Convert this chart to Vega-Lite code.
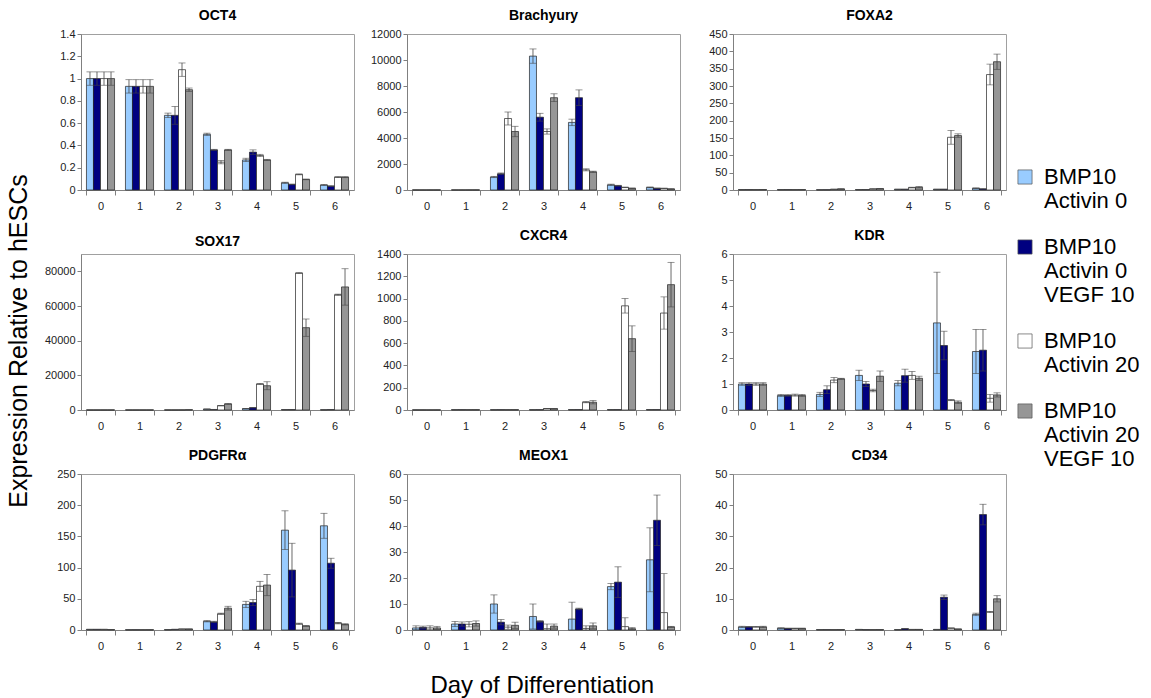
{
"$schema": "https://vega.github.io/schema/vega-lite/v6.json",
"background": "white",
"padding": {"left": 6, "top": 8, "right": 5, "bottom": 2},
"config": {
  "font": "Liberation Sans",
  "view": {"stroke": "#a0a0a0", "strokeWidth": 1},
  "axis": {"labelFont": "Liberation Sans", "labelFontSize": 11, "labelColor": "#222", "domainColor": "#808080", "tickColor": "#808080", "grid": false, "labelOverlap": false},
  "axisY": {"tickSize": 4, "labelPadding": 2, "minExtent": 38, "maxExtent": 38, "format": "d"},
  "axisX": {"ticks": true, "tickBand": "extent", "tickSize": 5, "labelPadding": 5, "labelAngle": 0, "minExtent": 23, "maxExtent": 23},
  "title": {"font": "Liberation Sans", "fontSize": 14, "fontWeight": "bold", "color": "#000", "offset": 5, "anchor": "middle"},
  "bar": {"stroke": "#222", "strokeWidth": 0.7}
},
"data": {"values": [
{"g":"OCT4","d":0,"s":"BMP10, Activin 0","v":1,"e":0.06},{"g":"OCT4","d":0,"s":"BMP10, Activin 0, VEGF 10","v":1,"e":0.06},{"g":"OCT4","d":0,"s":"BMP10, Activin 20","v":1,"e":0.06},{"g":"OCT4","d":0,"s":"BMP10, Activin 20, VEGF 10","v":1,"e":0.06},
{"g":"OCT4","d":1,"s":"BMP10, Activin 0","v":0.93,"e":0.06},{"g":"OCT4","d":1,"s":"BMP10, Activin 0, VEGF 10","v":0.93,"e":0.06},{"g":"OCT4","d":1,"s":"BMP10, Activin 20","v":0.93,"e":0.06},{"g":"OCT4","d":1,"s":"BMP10, Activin 20, VEGF 10","v":0.93,"e":0.06},
{"g":"OCT4","d":2,"s":"BMP10, Activin 0","v":0.67,"e":0.02},{"g":"OCT4","d":2,"s":"BMP10, Activin 0, VEGF 10","v":0.67,"e":0.08},{"g":"OCT4","d":2,"s":"BMP10, Activin 20","v":1.08,"e":0.06},{"g":"OCT4","d":2,"s":"BMP10, Activin 20, VEGF 10","v":0.9,"e":0.015},
{"g":"OCT4","d":3,"s":"BMP10, Activin 0","v":0.5,"e":0.01},{"g":"OCT4","d":3,"s":"BMP10, Activin 0, VEGF 10","v":0.36,"e":0.005},{"g":"OCT4","d":3,"s":"BMP10, Activin 20","v":0.25,"e":0.015},{"g":"OCT4","d":3,"s":"BMP10, Activin 20, VEGF 10","v":0.36,"e":0.005},
{"g":"OCT4","d":4,"s":"BMP10, Activin 0","v":0.27,"e":0.015},{"g":"OCT4","d":4,"s":"BMP10, Activin 0, VEGF 10","v":0.34,"e":0.02},{"g":"OCT4","d":4,"s":"BMP10, Activin 20","v":0.31,"e":0.01},{"g":"OCT4","d":4,"s":"BMP10, Activin 20, VEGF 10","v":0.27,"e":0.005},
{"g":"OCT4","d":5,"s":"BMP10, Activin 0","v":0.065,"e":0.005},{"g":"OCT4","d":5,"s":"BMP10, Activin 0, VEGF 10","v":0.05,"e":0.003},{"g":"OCT4","d":5,"s":"BMP10, Activin 20","v":0.14,"e":0.004},{"g":"OCT4","d":5,"s":"BMP10, Activin 20, VEGF 10","v":0.095,"e":0.003},
{"g":"OCT4","d":6,"s":"BMP10, Activin 0","v":0.045,"e":0.005},{"g":"OCT4","d":6,"s":"BMP10, Activin 0, VEGF 10","v":0.035,"e":0.003},{"g":"OCT4","d":6,"s":"BMP10, Activin 20","v":0.115,"e":0.004},{"g":"OCT4","d":6,"s":"BMP10, Activin 20, VEGF 10","v":0.115,"e":0.004},
{"g":"Brachyury","d":0,"s":"BMP10, Activin 0","v":2,"e":1},{"g":"Brachyury","d":0,"s":"BMP10, Activin 0, VEGF 10","v":2,"e":1},{"g":"Brachyury","d":0,"s":"BMP10, Activin 20","v":3,"e":1},{"g":"Brachyury","d":0,"s":"BMP10, Activin 20, VEGF 10","v":3,"e":1},
{"g":"Brachyury","d":1,"s":"BMP10, Activin 0","v":2,"e":1},{"g":"Brachyury","d":1,"s":"BMP10, Activin 0, VEGF 10","v":2,"e":1},{"g":"Brachyury","d":1,"s":"BMP10, Activin 20","v":3,"e":1},{"g":"Brachyury","d":1,"s":"BMP10, Activin 20, VEGF 10","v":3,"e":1},
{"g":"Brachyury","d":2,"s":"BMP10, Activin 0","v":1000,"e":50},{"g":"Brachyury","d":2,"s":"BMP10, Activin 0, VEGF 10","v":1250,"e":60},{"g":"Brachyury","d":2,"s":"BMP10, Activin 20","v":5500,"e":500},{"g":"Brachyury","d":2,"s":"BMP10, Activin 20, VEGF 10","v":4500,"e":400},
{"g":"Brachyury","d":3,"s":"BMP10, Activin 0","v":10300,"e":550},{"g":"Brachyury","d":3,"s":"BMP10, Activin 0, VEGF 10","v":5600,"e":300},{"g":"Brachyury","d":3,"s":"BMP10, Activin 20","v":4500,"e":200},{"g":"Brachyury","d":3,"s":"BMP10, Activin 20, VEGF 10","v":7100,"e":300},
{"g":"Brachyury","d":4,"s":"BMP10, Activin 0","v":5200,"e":250},{"g":"Brachyury","d":4,"s":"BMP10, Activin 0, VEGF 10","v":7100,"e":600},{"g":"Brachyury","d":4,"s":"BMP10, Activin 20","v":1550,"e":80},{"g":"Brachyury","d":4,"s":"BMP10, Activin 20, VEGF 10","v":1400,"e":50},
{"g":"Brachyury","d":5,"s":"BMP10, Activin 0","v":400,"e":50},{"g":"Brachyury","d":5,"s":"BMP10, Activin 0, VEGF 10","v":330,"e":30},{"g":"Brachyury","d":5,"s":"BMP10, Activin 20","v":200,"e":20},{"g":"Brachyury","d":5,"s":"BMP10, Activin 20, VEGF 10","v":130,"e":20},
{"g":"Brachyury","d":6,"s":"BMP10, Activin 0","v":200,"e":30},{"g":"Brachyury","d":6,"s":"BMP10, Activin 0, VEGF 10","v":130,"e":20},{"g":"Brachyury","d":6,"s":"BMP10, Activin 20","v":120,"e":20},{"g":"Brachyury","d":6,"s":"BMP10, Activin 20, VEGF 10","v":80,"e":10},
{"g":"FOXA2","d":0,"s":"BMP10, Activin 0","v":1,"e":0.2},{"g":"FOXA2","d":0,"s":"BMP10, Activin 0, VEGF 10","v":1,"e":0.2},{"g":"FOXA2","d":0,"s":"BMP10, Activin 20","v":1,"e":0.2},{"g":"FOXA2","d":0,"s":"BMP10, Activin 20, VEGF 10","v":1,"e":0.2},
{"g":"FOXA2","d":1,"s":"BMP10, Activin 0","v":1,"e":0.2},{"g":"FOXA2","d":1,"s":"BMP10, Activin 0, VEGF 10","v":1,"e":0.2},{"g":"FOXA2","d":1,"s":"BMP10, Activin 20","v":1,"e":0.2},{"g":"FOXA2","d":1,"s":"BMP10, Activin 20, VEGF 10","v":1,"e":0.2},
{"g":"FOXA2","d":2,"s":"BMP10, Activin 0","v":0.5,"e":0.1},{"g":"FOXA2","d":2,"s":"BMP10, Activin 0, VEGF 10","v":0.5,"e":0.1},{"g":"FOXA2","d":2,"s":"BMP10, Activin 20","v":2,"e":0.5},{"g":"FOXA2","d":2,"s":"BMP10, Activin 20, VEGF 10","v":3,"e":0.5},
{"g":"FOXA2","d":3,"s":"BMP10, Activin 0","v":1,"e":0.2},{"g":"FOXA2","d":3,"s":"BMP10, Activin 0, VEGF 10","v":1,"e":0.2},{"g":"FOXA2","d":3,"s":"BMP10, Activin 20","v":3,"e":0.5},{"g":"FOXA2","d":3,"s":"BMP10, Activin 20, VEGF 10","v":4,"e":0.5},
{"g":"FOXA2","d":4,"s":"BMP10, Activin 0","v":2,"e":0.5},{"g":"FOXA2","d":4,"s":"BMP10, Activin 0, VEGF 10","v":2,"e":0.5},{"g":"FOXA2","d":4,"s":"BMP10, Activin 20","v":7,"e":1},{"g":"FOXA2","d":4,"s":"BMP10, Activin 20, VEGF 10","v":8,"e":2},
{"g":"FOXA2","d":5,"s":"BMP10, Activin 0","v":2,"e":0.5},{"g":"FOXA2","d":5,"s":"BMP10, Activin 0, VEGF 10","v":2,"e":0.5},{"g":"FOXA2","d":5,"s":"BMP10, Activin 20","v":152,"e":20},{"g":"FOXA2","d":5,"s":"BMP10, Activin 20, VEGF 10","v":157,"e":5},
{"g":"FOXA2","d":6,"s":"BMP10, Activin 0","v":5,"e":1},{"g":"FOXA2","d":6,"s":"BMP10, Activin 0, VEGF 10","v":3,"e":0.5},{"g":"FOXA2","d":6,"s":"BMP10, Activin 20","v":333,"e":30},{"g":"FOXA2","d":6,"s":"BMP10, Activin 20, VEGF 10","v":370,"e":22},
{"g":"SOX17","d":0,"s":"BMP10, Activin 0","v":1,"e":0},{"g":"SOX17","d":0,"s":"BMP10, Activin 0, VEGF 10","v":1,"e":0},{"g":"SOX17","d":0,"s":"BMP10, Activin 20","v":1,"e":0},{"g":"SOX17","d":0,"s":"BMP10, Activin 20, VEGF 10","v":1,"e":0},
{"g":"SOX17","d":1,"s":"BMP10, Activin 0","v":1,"e":0},{"g":"SOX17","d":1,"s":"BMP10, Activin 0, VEGF 10","v":1,"e":0},{"g":"SOX17","d":1,"s":"BMP10, Activin 20","v":1,"e":0},{"g":"SOX17","d":1,"s":"BMP10, Activin 20, VEGF 10","v":1,"e":0},
{"g":"SOX17","d":2,"s":"BMP10, Activin 0","v":5,"e":0},{"g":"SOX17","d":2,"s":"BMP10, Activin 0, VEGF 10","v":5,"e":0},{"g":"SOX17","d":2,"s":"BMP10, Activin 20","v":20,"e":5},{"g":"SOX17","d":2,"s":"BMP10, Activin 20, VEGF 10","v":100,"e":20},
{"g":"SOX17","d":3,"s":"BMP10, Activin 0","v":500,"e":100},{"g":"SOX17","d":3,"s":"BMP10, Activin 0, VEGF 10","v":300,"e":50},{"g":"SOX17","d":3,"s":"BMP10, Activin 20","v":2500,"e":100},{"g":"SOX17","d":3,"s":"BMP10, Activin 20, VEGF 10","v":3500,"e":200},
{"g":"SOX17","d":4,"s":"BMP10, Activin 0","v":800,"e":100},{"g":"SOX17","d":4,"s":"BMP10, Activin 0, VEGF 10","v":1300,"e":100},{"g":"SOX17","d":4,"s":"BMP10, Activin 20","v":15000,"e":300},{"g":"SOX17","d":4,"s":"BMP10, Activin 20, VEGF 10","v":14000,"e":2300},
{"g":"SOX17","d":5,"s":"BMP10, Activin 0","v":200,"e":50},{"g":"SOX17","d":5,"s":"BMP10, Activin 0, VEGF 10","v":200,"e":50},{"g":"SOX17","d":5,"s":"BMP10, Activin 20","v":79000,"e":200},{"g":"SOX17","d":5,"s":"BMP10, Activin 20, VEGF 10","v":47500,"e":5000},
{"g":"SOX17","d":6,"s":"BMP10, Activin 0","v":100,"e":30},{"g":"SOX17","d":6,"s":"BMP10, Activin 0, VEGF 10","v":200,"e":50},{"g":"SOX17","d":6,"s":"BMP10, Activin 20","v":66500,"e":300},{"g":"SOX17","d":6,"s":"BMP10, Activin 20, VEGF 10","v":71000,"e":10500},
{"g":"CXCR4","d":0,"s":"BMP10, Activin 0","v":0.5,"e":0.1},{"g":"CXCR4","d":0,"s":"BMP10, Activin 0, VEGF 10","v":0.5,"e":0.1},{"g":"CXCR4","d":0,"s":"BMP10, Activin 20","v":0.5,"e":0.1},{"g":"CXCR4","d":0,"s":"BMP10, Activin 20, VEGF 10","v":0.5,"e":0.1},
{"g":"CXCR4","d":1,"s":"BMP10, Activin 0","v":2,"e":0.3},{"g":"CXCR4","d":1,"s":"BMP10, Activin 0, VEGF 10","v":2,"e":0.3},{"g":"CXCR4","d":1,"s":"BMP10, Activin 20","v":2,"e":0.3},{"g":"CXCR4","d":1,"s":"BMP10, Activin 20, VEGF 10","v":2,"e":0.3},
{"g":"CXCR4","d":2,"s":"BMP10, Activin 0","v":2,"e":0.3},{"g":"CXCR4","d":2,"s":"BMP10, Activin 0, VEGF 10","v":2,"e":0.3},{"g":"CXCR4","d":2,"s":"BMP10, Activin 20","v":2,"e":0.3},{"g":"CXCR4","d":2,"s":"BMP10, Activin 20, VEGF 10","v":2,"e":0.3},
{"g":"CXCR4","d":3,"s":"BMP10, Activin 0","v":2,"e":0.3},{"g":"CXCR4","d":3,"s":"BMP10, Activin 0, VEGF 10","v":2,"e":0.3},{"g":"CXCR4","d":3,"s":"BMP10, Activin 20","v":13,"e":1},{"g":"CXCR4","d":3,"s":"BMP10, Activin 20, VEGF 10","v":12,"e":1},
{"g":"CXCR4","d":4,"s":"BMP10, Activin 0","v":3,"e":0.5},{"g":"CXCR4","d":4,"s":"BMP10, Activin 0, VEGF 10","v":3,"e":0.5},{"g":"CXCR4","d":4,"s":"BMP10, Activin 20","v":70,"e":5},{"g":"CXCR4","d":4,"s":"BMP10, Activin 20, VEGF 10","v":70,"e":15},
{"g":"CXCR4","d":5,"s":"BMP10, Activin 0","v":3,"e":0.5},{"g":"CXCR4","d":5,"s":"BMP10, Activin 0, VEGF 10","v":3,"e":0.5},{"g":"CXCR4","d":5,"s":"BMP10, Activin 20","v":935,"e":65},{"g":"CXCR4","d":5,"s":"BMP10, Activin 20, VEGF 10","v":640,"e":115},
{"g":"CXCR4","d":6,"s":"BMP10, Activin 0","v":3,"e":0.5},{"g":"CXCR4","d":6,"s":"BMP10, Activin 0, VEGF 10","v":3,"e":0.5},{"g":"CXCR4","d":6,"s":"BMP10, Activin 20","v":870,"e":145},{"g":"CXCR4","d":6,"s":"BMP10, Activin 20, VEGF 10","v":1125,"e":200},
{"g":"KDR","d":0,"s":"BMP10, Activin 0","v":1,"e":0.05},{"g":"KDR","d":0,"s":"BMP10, Activin 0, VEGF 10","v":1,"e":0.05},{"g":"KDR","d":0,"s":"BMP10, Activin 20","v":1,"e":0.05},{"g":"KDR","d":0,"s":"BMP10, Activin 20, VEGF 10","v":1,"e":0.05},
{"g":"KDR","d":1,"s":"BMP10, Activin 0","v":0.56,"e":0.04},{"g":"KDR","d":1,"s":"BMP10, Activin 0, VEGF 10","v":0.56,"e":0.03},{"g":"KDR","d":1,"s":"BMP10, Activin 20","v":0.57,"e":0.04},{"g":"KDR","d":1,"s":"BMP10, Activin 20, VEGF 10","v":0.56,"e":0.04},
{"g":"KDR","d":2,"s":"BMP10, Activin 0","v":0.6,"e":0.08},{"g":"KDR","d":2,"s":"BMP10, Activin 0, VEGF 10","v":0.78,"e":0.15},{"g":"KDR","d":2,"s":"BMP10, Activin 20","v":1.15,"e":0.1},{"g":"KDR","d":2,"s":"BMP10, Activin 20, VEGF 10","v":1.2,"e":0.02},
{"g":"KDR","d":3,"s":"BMP10, Activin 0","v":1.33,"e":0.2},{"g":"KDR","d":3,"s":"BMP10, Activin 0, VEGF 10","v":1,"e":0.1},{"g":"KDR","d":3,"s":"BMP10, Activin 20","v":0.75,"e":0.05},{"g":"KDR","d":3,"s":"BMP10, Activin 20, VEGF 10","v":1.3,"e":0.2},
{"g":"KDR","d":4,"s":"BMP10, Activin 0","v":1.03,"e":0.1},{"g":"KDR","d":4,"s":"BMP10, Activin 0, VEGF 10","v":1.32,"e":0.25},{"g":"KDR","d":4,"s":"BMP10, Activin 20","v":1.33,"e":0.15},{"g":"KDR","d":4,"s":"BMP10, Activin 20, VEGF 10","v":1.22,"e":0.08},
{"g":"KDR","d":5,"s":"BMP10, Activin 0","v":3.35,"e":1.95},{"g":"KDR","d":5,"s":"BMP10, Activin 0, VEGF 10","v":2.48,"e":0.55},{"g":"KDR","d":5,"s":"BMP10, Activin 20","v":0.38,"e":0.02},{"g":"KDR","d":5,"s":"BMP10, Activin 20, VEGF 10","v":0.3,"e":0.05},
{"g":"KDR","d":6,"s":"BMP10, Activin 0","v":2.25,"e":0.85},{"g":"KDR","d":6,"s":"BMP10, Activin 0, VEGF 10","v":2.3,"e":0.8},{"g":"KDR","d":6,"s":"BMP10, Activin 20","v":0.45,"e":0.15},{"g":"KDR","d":6,"s":"BMP10, Activin 20, VEGF 10","v":0.58,"e":0.08},
{"g":"PDGFRα","d":0,"s":"BMP10, Activin 0","v":1,"e":0.2},{"g":"PDGFRα","d":0,"s":"BMP10, Activin 0, VEGF 10","v":1,"e":0.2},{"g":"PDGFRα","d":0,"s":"BMP10, Activin 20","v":1,"e":0.2},{"g":"PDGFRα","d":0,"s":"BMP10, Activin 20, VEGF 10","v":0.6,"e":0.1},
{"g":"PDGFRα","d":1,"s":"BMP10, Activin 0","v":0.3,"e":0.1},{"g":"PDGFRα","d":1,"s":"BMP10, Activin 0, VEGF 10","v":0.3,"e":0.1},{"g":"PDGFRα","d":1,"s":"BMP10, Activin 20","v":0.3,"e":0.1},{"g":"PDGFRα","d":1,"s":"BMP10, Activin 20, VEGF 10","v":0.3,"e":0.1},
{"g":"PDGFRα","d":2,"s":"BMP10, Activin 0","v":0.5,"e":0.1},{"g":"PDGFRα","d":2,"s":"BMP10, Activin 0, VEGF 10","v":1,"e":0.2},{"g":"PDGFRα","d":2,"s":"BMP10, Activin 20","v":1.5,"e":0.2},{"g":"PDGFRα","d":2,"s":"BMP10, Activin 20, VEGF 10","v":1.5,"e":0.2},
{"g":"PDGFRα","d":3,"s":"BMP10, Activin 0","v":14,"e":1},{"g":"PDGFRα","d":3,"s":"BMP10, Activin 0, VEGF 10","v":13,"e":1},{"g":"PDGFRα","d":3,"s":"BMP10, Activin 20","v":26,"e":1},{"g":"PDGFRα","d":3,"s":"BMP10, Activin 20, VEGF 10","v":35,"e":3},
{"g":"PDGFRα","d":4,"s":"BMP10, Activin 0","v":41,"e":5},{"g":"PDGFRα","d":4,"s":"BMP10, Activin 0, VEGF 10","v":44,"e":5},{"g":"PDGFRα","d":4,"s":"BMP10, Activin 20","v":70,"e":8},{"g":"PDGFRα","d":4,"s":"BMP10, Activin 20, VEGF 10","v":72,"e":17},
{"g":"PDGFRα","d":5,"s":"BMP10, Activin 0","v":160,"e":31},{"g":"PDGFRα","d":5,"s":"BMP10, Activin 0, VEGF 10","v":96,"e":43},{"g":"PDGFRα","d":5,"s":"BMP10, Activin 20","v":10,"e":1},{"g":"PDGFRα","d":5,"s":"BMP10, Activin 20, VEGF 10","v":6.5,"e":0.5},
{"g":"PDGFRα","d":6,"s":"BMP10, Activin 0","v":167,"e":20},{"g":"PDGFRα","d":6,"s":"BMP10, Activin 0, VEGF 10","v":107,"e":8},{"g":"PDGFRα","d":6,"s":"BMP10, Activin 20","v":11,"e":1},{"g":"PDGFRα","d":6,"s":"BMP10, Activin 20, VEGF 10","v":9,"e":1},
{"g":"MEOX1","d":0,"s":"BMP10, Activin 0","v":0.8,"e":0.8},{"g":"MEOX1","d":0,"s":"BMP10, Activin 0, VEGF 10","v":1,"e":0.5},{"g":"MEOX1","d":0,"s":"BMP10, Activin 20","v":0.8,"e":0.8},{"g":"MEOX1","d":0,"s":"BMP10, Activin 20, VEGF 10","v":0.8,"e":0.6},
{"g":"MEOX1","d":1,"s":"BMP10, Activin 0","v":2.3,"e":1},{"g":"MEOX1","d":1,"s":"BMP10, Activin 0, VEGF 10","v":2.3,"e":0.8},{"g":"MEOX1","d":1,"s":"BMP10, Activin 20","v":2.2,"e":1},{"g":"MEOX1","d":1,"s":"BMP10, Activin 20, VEGF 10","v":2.5,"e":1},
{"g":"MEOX1","d":2,"s":"BMP10, Activin 0","v":10,"e":3.5},{"g":"MEOX1","d":2,"s":"BMP10, Activin 0, VEGF 10","v":3,"e":1},{"g":"MEOX1","d":2,"s":"BMP10, Activin 20","v":1.1,"e":0.8},{"g":"MEOX1","d":2,"s":"BMP10, Activin 20, VEGF 10","v":1.8,"e":1.2},
{"g":"MEOX1","d":3,"s":"BMP10, Activin 0","v":5.2,"e":4.8},{"g":"MEOX1","d":3,"s":"BMP10, Activin 0, VEGF 10","v":3.3,"e":0.3},{"g":"MEOX1","d":3,"s":"BMP10, Activin 20","v":0.5,"e":1.8},{"g":"MEOX1","d":3,"s":"BMP10, Activin 20, VEGF 10","v":1.5,"e":0.8},
{"g":"MEOX1","d":4,"s":"BMP10, Activin 0","v":4.2,"e":6.5},{"g":"MEOX1","d":4,"s":"BMP10, Activin 0, VEGF 10","v":8.1,"e":0.3},{"g":"MEOX1","d":4,"s":"BMP10, Activin 20","v":0.6,"e":1},{"g":"MEOX1","d":4,"s":"BMP10, Activin 20, VEGF 10","v":1.6,"e":1.1},
{"g":"MEOX1","d":5,"s":"BMP10, Activin 0","v":16.7,"e":1.2},{"g":"MEOX1","d":5,"s":"BMP10, Activin 0, VEGF 10","v":18.4,"e":5.9},{"g":"MEOX1","d":5,"s":"BMP10, Activin 20","v":1.3,"e":3.4},{"g":"MEOX1","d":5,"s":"BMP10, Activin 20, VEGF 10","v":0.5,"e":0.4},
{"g":"MEOX1","d":6,"s":"BMP10, Activin 0","v":27,"e":12.3},{"g":"MEOX1","d":6,"s":"BMP10, Activin 0, VEGF 10","v":42.2,"e":9.7},{"g":"MEOX1","d":6,"s":"BMP10, Activin 20","v":6.7,"e":15},{"g":"MEOX1","d":6,"s":"BMP10, Activin 20, VEGF 10","v":1.2,"e":0.2},
{"g":"CD34","d":0,"s":"BMP10, Activin 0","v":1,"e":0.2},{"g":"CD34","d":0,"s":"BMP10, Activin 0, VEGF 10","v":1,"e":0.1},{"g":"CD34","d":0,"s":"BMP10, Activin 20","v":1,"e":0.1},{"g":"CD34","d":0,"s":"BMP10, Activin 20, VEGF 10","v":1,"e":0.2},
{"g":"CD34","d":1,"s":"BMP10, Activin 0","v":0.6,"e":0.1},{"g":"CD34","d":1,"s":"BMP10, Activin 0, VEGF 10","v":0.5,"e":0.1},{"g":"CD34","d":1,"s":"BMP10, Activin 20","v":0.5,"e":0.1},{"g":"CD34","d":1,"s":"BMP10, Activin 20, VEGF 10","v":0.5,"e":0.1},
{"g":"CD34","d":2,"s":"BMP10, Activin 0","v":0.1,"e":0},{"g":"CD34","d":2,"s":"BMP10, Activin 0, VEGF 10","v":0.1,"e":0},{"g":"CD34","d":2,"s":"BMP10, Activin 20","v":0.1,"e":0},{"g":"CD34","d":2,"s":"BMP10, Activin 20, VEGF 10","v":0.1,"e":0},
{"g":"CD34","d":3,"s":"BMP10, Activin 0","v":0.2,"e":0},{"g":"CD34","d":3,"s":"BMP10, Activin 0, VEGF 10","v":0.1,"e":0},{"g":"CD34","d":3,"s":"BMP10, Activin 20","v":0.1,"e":0},{"g":"CD34","d":3,"s":"BMP10, Activin 20, VEGF 10","v":0.1,"e":0},
{"g":"CD34","d":4,"s":"BMP10, Activin 0","v":0.1,"e":0},{"g":"CD34","d":4,"s":"BMP10, Activin 0, VEGF 10","v":0.4,"e":0.05},{"g":"CD34","d":4,"s":"BMP10, Activin 20","v":0.2,"e":0},{"g":"CD34","d":4,"s":"BMP10, Activin 20, VEGF 10","v":0.2,"e":0},
{"g":"CD34","d":5,"s":"BMP10, Activin 0","v":0.2,"e":0},{"g":"CD34","d":5,"s":"BMP10, Activin 0, VEGF 10","v":10.5,"e":0.7},{"g":"CD34","d":5,"s":"BMP10, Activin 20","v":0.6,"e":0.05},{"g":"CD34","d":5,"s":"BMP10, Activin 20, VEGF 10","v":0.3,"e":0},
{"g":"CD34","d":6,"s":"BMP10, Activin 0","v":5,"e":0.4},{"g":"CD34","d":6,"s":"BMP10, Activin 0, VEGF 10","v":37,"e":3.3},{"g":"CD34","d":6,"s":"BMP10, Activin 20","v":5.8,"e":0.2},{"g":"CD34","d":6,"s":"BMP10, Activin 20, VEGF 10","v":10,"e":1}
]},
"title": {"text": "Day of Differentiation", "orient": "bottom", "anchor": "middle", "fontSize": 24, "fontWeight": "normal", "offset": 20, "dx": -31},
"hconcat": [{
  "title": {"text": "Expression Relative to hESCs", "orient": "left", "anchor": "middle", "fontSize": 25, "fontWeight": "normal", "offset": 11, "dx": -10},
  "columns": 3,
  "spacing": {"row": 14, "column": 13},
  "concat": [
    {"title": "OCT4", "width": 273, "height": 156, "transform": [{"filter": "datum.g === 'OCT4'"}],
     "encoding": {"x": {"field": "d", "type": "ordinal", "title": null, "scale": {"paddingInner": 0.28, "paddingOuter": 0.14}}, "xOffset": {"field": "s", "type": "nominal", "sort": null},
       "y": {"field": "v", "type": "quantitative", "title": null, "scale": {"domain": [0, 1.4], "nice": false}, "axis": {"values": [0, 0.2, 0.4, 0.6, 0.8, 1, 1.2, 1.4], "format": ".1~f"}}},
     "layer": [
      {"mark": "bar", "encoding": {"color": {"field": "s", "type": "nominal", "sort": null, "scale": {"range": ["#99CCFF", "#000080", "#FFFFFF", "#969696"]}, "legend": {"orient": "none", "legendX": 933, "legendY": 132, "title": null, "symbolType": "square", "symbolSize": 200, "symbolStrokeColor": "#555", "symbolStrokeWidth": 0.7, "labelFontSize": 22, "labelFont": "Liberation Sans", "labelColor": "#000", "labelExpr": "split(datum.value, ', ')", "labelBaseline": "middle", "labelOffset": 8, "rowPadding": 24, "labelLimit": 300}}}},
      {"mark": {"type": "errorbar", "ticks": true, "color": "#444", "thickness": 0.8, "clip": true}, "encoding": {"yError": {"field": "e"}}}
     ]},
    {"title": "Brachyury", "width": 273, "height": 156, "transform": [{"filter": "datum.g === 'Brachyury'"}],
     "encoding": {"x": {"field": "d", "type": "ordinal", "title": null, "scale": {"paddingInner": 0.28, "paddingOuter": 0.14}}, "xOffset": {"field": "s", "type": "nominal", "sort": null},
       "y": {"field": "v", "type": "quantitative", "title": null, "scale": {"domain": [0, 12000], "nice": false}, "axis": {"values": [0, 2000, 4000, 6000, 8000, 10000, 12000]}}},
     "layer": [
      {"mark": "bar", "encoding": {"color": {"field": "s", "type": "nominal", "sort": null, "scale": {"range": ["#99CCFF", "#000080", "#FFFFFF", "#969696"]}, "legend": {"orient": "none", "legendX": 933, "legendY": 132, "title": null, "symbolType": "square", "symbolSize": 200, "symbolStrokeColor": "#555", "symbolStrokeWidth": 0.7, "labelFontSize": 22, "labelFont": "Liberation Sans", "labelColor": "#000", "labelExpr": "split(datum.value, ', ')", "labelBaseline": "middle", "labelOffset": 8, "rowPadding": 24, "labelLimit": 300}}}},
      {"mark": {"type": "errorbar", "ticks": true, "color": "#444", "thickness": 0.8, "clip": true}, "encoding": {"yError": {"field": "e"}}}
     ]},
    {"title": "FOXA2", "width": 273, "height": 156, "transform": [{"filter": "datum.g === 'FOXA2'"}],
     "encoding": {"x": {"field": "d", "type": "ordinal", "title": null, "scale": {"paddingInner": 0.28, "paddingOuter": 0.14}}, "xOffset": {"field": "s", "type": "nominal", "sort": null},
       "y": {"field": "v", "type": "quantitative", "title": null, "scale": {"domain": [0, 450], "nice": false}, "axis": {"values": [0, 50, 100, 150, 200, 250, 300, 350, 400, 450]}}},
     "layer": [
      {"mark": "bar", "encoding": {"color": {"field": "s", "type": "nominal", "sort": null, "scale": {"range": ["#99CCFF", "#000080", "#FFFFFF", "#969696"]}, "legend": {"orient": "none", "legendX": 933, "legendY": 132, "title": null, "symbolType": "square", "symbolSize": 200, "symbolStrokeColor": "#555", "symbolStrokeWidth": 0.7, "labelFontSize": 22, "labelFont": "Liberation Sans", "labelColor": "#000", "labelExpr": "split(datum.value, ', ')", "labelBaseline": "middle", "labelOffset": 8, "rowPadding": 24, "labelLimit": 300}}}},
      {"mark": {"type": "errorbar", "ticks": true, "color": "#444", "thickness": 0.8, "clip": true}, "encoding": {"yError": {"field": "e"}}}
     ]},
    {"title": "SOX17", "width": 273, "height": 156, "transform": [{"filter": "datum.g === 'SOX17'"}],
     "encoding": {"x": {"field": "d", "type": "ordinal", "title": null, "scale": {"paddingInner": 0.28, "paddingOuter": 0.14}}, "xOffset": {"field": "s", "type": "nominal", "sort": null},
       "y": {"field": "v", "type": "quantitative", "title": null, "scale": {"domain": [0, 90000], "nice": false}, "axis": {"values": [0, 20000, 40000, 60000, 80000]}}},
     "layer": [
      {"mark": "bar", "encoding": {"color": {"field": "s", "type": "nominal", "sort": null, "scale": {"range": ["#99CCFF", "#000080", "#FFFFFF", "#969696"]}, "legend": {"orient": "none", "legendX": 933, "legendY": 132, "title": null, "symbolType": "square", "symbolSize": 200, "symbolStrokeColor": "#555", "symbolStrokeWidth": 0.7, "labelFontSize": 22, "labelFont": "Liberation Sans", "labelColor": "#000", "labelExpr": "split(datum.value, ', ')", "labelBaseline": "middle", "labelOffset": 8, "rowPadding": 24, "labelLimit": 300}}}},
      {"mark": {"type": "errorbar", "ticks": true, "color": "#444", "thickness": 0.8, "clip": true}, "encoding": {"yError": {"field": "e"}}}
     ]},
    {"title": "CXCR4", "width": 273, "height": 156, "transform": [{"filter": "datum.g === 'CXCR4'"}],
     "encoding": {"x": {"field": "d", "type": "ordinal", "title": null, "scale": {"paddingInner": 0.28, "paddingOuter": 0.14}}, "xOffset": {"field": "s", "type": "nominal", "sort": null},
       "y": {"field": "v", "type": "quantitative", "title": null, "scale": {"domain": [0, 1400], "nice": false}, "axis": {"values": [0, 200, 400, 600, 800, 1000, 1200, 1400]}}},
     "layer": [
      {"mark": "bar", "encoding": {"color": {"field": "s", "type": "nominal", "sort": null, "scale": {"range": ["#99CCFF", "#000080", "#FFFFFF", "#969696"]}, "legend": {"orient": "none", "legendX": 933, "legendY": 132, "title": null, "symbolType": "square", "symbolSize": 200, "symbolStrokeColor": "#555", "symbolStrokeWidth": 0.7, "labelFontSize": 22, "labelFont": "Liberation Sans", "labelColor": "#000", "labelExpr": "split(datum.value, ', ')", "labelBaseline": "middle", "labelOffset": 8, "rowPadding": 24, "labelLimit": 300}}}},
      {"mark": {"type": "errorbar", "ticks": true, "color": "#444", "thickness": 0.8, "clip": true}, "encoding": {"yError": {"field": "e"}}}
     ]},
    {"title": "KDR", "width": 273, "height": 156, "transform": [{"filter": "datum.g === 'KDR'"}],
     "encoding": {"x": {"field": "d", "type": "ordinal", "title": null, "scale": {"paddingInner": 0.28, "paddingOuter": 0.14}}, "xOffset": {"field": "s", "type": "nominal", "sort": null},
       "y": {"field": "v", "type": "quantitative", "title": null, "scale": {"domain": [0, 6], "nice": false}, "axis": {"values": [0, 1, 2, 3, 4, 5, 6]}}},
     "layer": [
      {"mark": "bar", "encoding": {"color": {"field": "s", "type": "nominal", "sort": null, "scale": {"range": ["#99CCFF", "#000080", "#FFFFFF", "#969696"]}, "legend": {"orient": "none", "legendX": 933, "legendY": 132, "title": null, "symbolType": "square", "symbolSize": 200, "symbolStrokeColor": "#555", "symbolStrokeWidth": 0.7, "labelFontSize": 22, "labelFont": "Liberation Sans", "labelColor": "#000", "labelExpr": "split(datum.value, ', ')", "labelBaseline": "middle", "labelOffset": 8, "rowPadding": 24, "labelLimit": 300}}}},
      {"mark": {"type": "errorbar", "ticks": true, "color": "#444", "thickness": 0.8, "clip": true}, "encoding": {"yError": {"field": "e"}}}
     ]},
    {"title": "PDGFRα", "width": 273, "height": 156, "transform": [{"filter": "datum.g === 'PDGFRα'"}],
     "encoding": {"x": {"field": "d", "type": "ordinal", "title": null, "scale": {"paddingInner": 0.28, "paddingOuter": 0.14}}, "xOffset": {"field": "s", "type": "nominal", "sort": null},
       "y": {"field": "v", "type": "quantitative", "title": null, "scale": {"domain": [0, 250], "nice": false}, "axis": {"values": [0, 50, 100, 150, 200, 250]}}},
     "layer": [
      {"mark": "bar", "encoding": {"color": {"field": "s", "type": "nominal", "sort": null, "scale": {"range": ["#99CCFF", "#000080", "#FFFFFF", "#969696"]}, "legend": {"orient": "none", "legendX": 933, "legendY": 132, "title": null, "symbolType": "square", "symbolSize": 200, "symbolStrokeColor": "#555", "symbolStrokeWidth": 0.7, "labelFontSize": 22, "labelFont": "Liberation Sans", "labelColor": "#000", "labelExpr": "split(datum.value, ', ')", "labelBaseline": "middle", "labelOffset": 8, "rowPadding": 24, "labelLimit": 300}}}},
      {"mark": {"type": "errorbar", "ticks": true, "color": "#444", "thickness": 0.8, "clip": true}, "encoding": {"yError": {"field": "e"}}}
     ]},
    {"title": "MEOX1", "width": 273, "height": 156, "transform": [{"filter": "datum.g === 'MEOX1'"}],
     "encoding": {"x": {"field": "d", "type": "ordinal", "title": null, "scale": {"paddingInner": 0.28, "paddingOuter": 0.14}}, "xOffset": {"field": "s", "type": "nominal", "sort": null},
       "y": {"field": "v", "type": "quantitative", "title": null, "scale": {"domain": [0, 60], "nice": false}, "axis": {"values": [0, 10, 20, 30, 40, 50, 60]}}},
     "layer": [
      {"mark": "bar", "encoding": {"color": {"field": "s", "type": "nominal", "sort": null, "scale": {"range": ["#99CCFF", "#000080", "#FFFFFF", "#969696"]}, "legend": {"orient": "none", "legendX": 933, "legendY": 132, "title": null, "symbolType": "square", "symbolSize": 200, "symbolStrokeColor": "#555", "symbolStrokeWidth": 0.7, "labelFontSize": 22, "labelFont": "Liberation Sans", "labelColor": "#000", "labelExpr": "split(datum.value, ', ')", "labelBaseline": "middle", "labelOffset": 8, "rowPadding": 24, "labelLimit": 300}}}},
      {"mark": {"type": "errorbar", "ticks": true, "color": "#444", "thickness": 0.8, "clip": true}, "encoding": {"yError": {"field": "e"}}}
     ]},
    {"title": "CD34", "width": 273, "height": 156, "transform": [{"filter": "datum.g === 'CD34'"}],
     "encoding": {"x": {"field": "d", "type": "ordinal", "title": null, "scale": {"paddingInner": 0.28, "paddingOuter": 0.14}}, "xOffset": {"field": "s", "type": "nominal", "sort": null},
       "y": {"field": "v", "type": "quantitative", "title": null, "scale": {"domain": [0, 50], "nice": false}, "axis": {"values": [0, 10, 20, 30, 40, 50]}}},
     "layer": [
      {"mark": "bar", "encoding": {"color": {"field": "s", "type": "nominal", "sort": null, "scale": {"range": ["#99CCFF", "#000080", "#FFFFFF", "#969696"]}, "legend": {"orient": "none", "legendX": 933, "legendY": 132, "title": null, "symbolType": "square", "symbolSize": 200, "symbolStrokeColor": "#555", "symbolStrokeWidth": 0.7, "labelFontSize": 22, "labelFont": "Liberation Sans", "labelColor": "#000", "labelExpr": "split(datum.value, ', ')", "labelBaseline": "middle", "labelOffset": 8, "rowPadding": 24, "labelLimit": 300}}}},
      {"mark": {"type": "errorbar", "ticks": true, "color": "#444", "thickness": 0.8, "clip": true}, "encoding": {"yError": {"field": "e"}}}
     ]}
  ]
}]
}
